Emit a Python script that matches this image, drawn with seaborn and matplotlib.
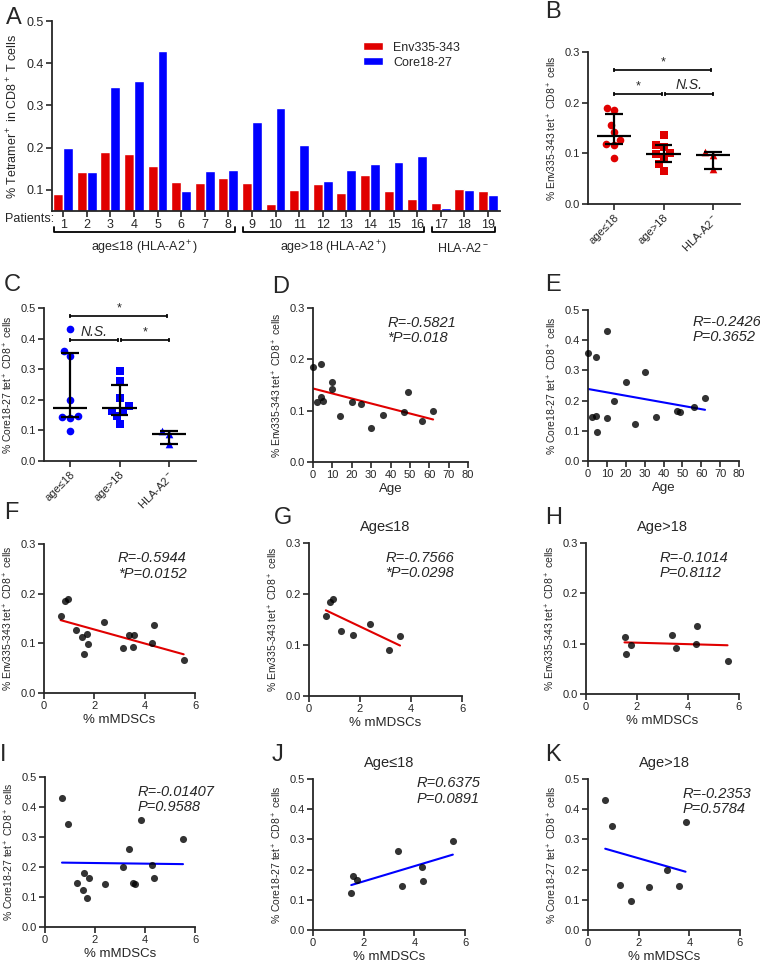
import numpy as np
import pandas as pd
import matplotlib
matplotlib.use("Agg")
import matplotlib.pyplot as plt
import matplotlib.transforms as mtransforms
import seaborn as sns

# ---- data (patients 1-16 are HLA-A2+, 17-19 are HLA-A2-) ----
patients = [str(i) for i in range(1, 20)]
env = [0.090, 0.142, 0.190, 0.185, 0.156, 0.119, 0.117, 0.127, 0.117, 0.066,
       0.100, 0.113, 0.092, 0.136, 0.098, 0.079, 0.070, 0.102, 0.097]
core = [0.200, 0.142, 0.343, 0.358, 0.430, 0.097, 0.145, 0.148, 0.261, 0.294,
        0.207, 0.122, 0.146, 0.162, 0.165, 0.180, 0.056, 0.099, 0.087]
age = [14, 10, 4, 0, 10, 5, 2, 4, 20, 30, 62, 25, 36, 49, 47, 56]
mdsc_env = [3.12, 2.39, 0.94, 0.82, 0.66, 1.71, 3.57, 1.27, 3.38, 5.55,
            4.30, 1.51, 3.53, 4.36, 1.76, 1.57]
mdsc_core = [3.13, 2.39, 0.93, 3.85, 0.68, 1.69, 3.59, 1.27, 3.37, 5.52,
             4.29, 1.51, 3.51, 4.35, 1.75, 1.57]
groups = ["age≤18", "age>18", "HLA-A2$^-$"]
group_slices = [slice(0, 8), slice(8, 16), slice(16, 19)]
bar_groups = ["age≤18 (HLA-A2$^+$)", "age>18 (HLA-A2$^+$)", "HLA-A2$^-$"]
stats = {
    "D": ("R=-0.5821", "*P=0.018"),
    "E": ("R=-0.2426", "P=0.3652"),
    "F": ("R=-0.5944", "*P=0.0152"),
    "G": ("R=-0.7566", "*P=0.0298"),
    "H": ("R=-0.1014", "P=0.8112"),
    "I": ("R=-0.01407", "P=0.9588"),
    "J": ("R=0.6375", "P=0.0891"),
    "K": ("R=-0.2353", "P=0.5784"),
}

RED = "#e00000"
BLUE = "#0000ff"

sns.set_style("ticks")
plt.rcParams["font.family"] = ["Liberation Sans", "DejaVu Sans"]
plt.rcParams["mathtext.fontset"] = "custom"
plt.rcParams["mathtext.rm"] = "Liberation Sans"
plt.rcParams["mathtext.it"] = "Liberation Sans:italic"
plt.rcParams["axes.linewidth"] = 1.3

W, H = 760, 963
fig = plt.figure(figsize=(W / 100, H / 100), dpi=100)


def px_axes(x0, y0, x1, y1):
    return fig.add_axes([x0 / W, 1 - y1 / H, (x1 - x0) / W, (y1 - y0) / H])


def style(ax, size=8):
    sns.despine(ax=ax)
    ax.tick_params(direction="out", length=4, width=1.2, labelsize=size, pad=2)


def letter(x, y, s):
    fig.text(x / W, 1 - y / H, s, fontsize=17, ha="left", va="center")


env_label = "% Env335-343 tet$^+$ CD8$^+$ cells"
core_label = "% Core18-27 tet$^+$ CD8$^+$ cells"

# ---- A: bar chart per patient ----
ax = px_axes(52, 21, 500, 211)
df_a = pd.DataFrame({
    "Patient": patients * 2,
    "value": env + core,
    "Epitope": ["Env335-343"] * 19 + ["Core18-27"] * 19,
})
sns.barplot(data=df_a, x="Patient", y="value", hue="Epitope", palette=[RED, BLUE],
            width=0.84, saturation=1, errorbar=None, ax=ax)
ax.set_ylim(0.05, 0.5)
ax.set_yticks([0.1, 0.2, 0.3, 0.4, 0.5])
ax.set_xlim(-0.47, 18.51)
ax.set_xlabel("")
ax.set_ylabel("% Tetramer$^+$ in CD8$^+$ T cells", fontsize=9)
style(ax, 9)
ax.legend(frameon=False, loc="upper left", bbox_to_anchor=(0.67, 0.95),
          fontsize=9, handlelength=1.6, handleheight=0.6, labelspacing=0.25)
fig.text(54 / W, 1 - 219 / H, "Patients:", fontsize=9, ha="right", va="center")
trans = mtransforms.blended_transform_factory(ax.transData, ax.transAxes)
for name, sl in zip(bar_groups, group_slices):
    a, b = sl.start - 0.37, sl.stop - 1 + 0.28
    ax.plot([a, a, b, b], [-0.085, -0.11, -0.11, -0.085], color="black", lw=1.3,
            transform=trans, clip_on=False)
    ax.text((a + b) / 2, -0.195, name, fontsize=9, ha="center", va="center",
            transform=trans)
letter(6, 18, "A")


# ---- B, C: group scatter with median and IQR ----
def bracket(ax, x0, x1, y, label, dy, italic=False):
    ax.plot([x0, x1], [y, y], color="black", lw=1.2, clip_on=False)
    ax.vlines([x0, x1], y - dy, y + dy, color="black", lw=1.2, clip_on=False)
    ax.text((x0 + x1) / 2, y + dy * 0.6, label, ha="center", va="bottom",
            fontsize=10 if italic else 9, style="italic" if italic else "normal")


def group_panel(ax, values, color, ylim, ylabel, labels):
    markers = ["o", "s", "^"]
    for g, sl, m in zip(groups, group_slices, markers):
        vals = values[sl]
        sns.swarmplot(x=[g] * len(vals), y=vals, order=groups, marker=m,
                      color=color, size=5.5, ax=ax, zorder=2)
        i = groups.index(g)
        q1, med, q3 = np.percentile(vals, [25, 50, 75], method="weibull")
        ax.hlines(med, i - 0.35, i + 0.35, color="black", lw=1.6, zorder=4)
        ax.vlines(i, q1, q3, color="black", lw=1.6, zorder=4)
        ax.hlines([q1, q3], i - 0.18, i + 0.18, color="black", lw=1.6, zorder=4)
    ax.set_ylim(*ylim)
    ax.set_yticks(np.arange(0, ylim[1] + 0.001, 0.1))
    ax.set_xlim(-0.53, 2.55)
    ax.set_ylabel(ylabel, fontsize=7.5)
    style(ax)
    ax.tick_params(axis="x", labelrotation=45)
    for t in ax.get_xticklabels():
        t.set_ha("right")
        t.set_rotation_mode("anchor")
    dy = 0.013 * (ylim[1] - ylim[0])
    top, low = labels
    bracket(ax, 0, 1.97, top[0], top[1], dy)
    bracket(ax, 0, 0.97, low[0], low[1], dy, italic=low[1] == "N.S.")
    bracket(ax, 1.03, 2, low[0], low[2], dy, italic=low[2] == "N.S.")


ax = px_axes(588, 52, 740, 204)
group_panel(ax, env, RED, (0, 0.3), env_label,
            [(0.265, "*"), (0.218, "*", "N.S.")])
letter(545, 12, "B")

ax = px_axes(44, 308, 196, 461)
group_panel(ax, core, BLUE, (0, 0.5), core_label,
            [(0.474, "*"), (0.396, "N.S.", "*")])
letter(4, 285, "C")


# ---- D-K: correlations ----
def corr_panel(ax, x, y, color, key, tx, ty, xmax, xstep, ymax, ylabel, xlabel,
               title=None):
    sns.regplot(x=np.array(x), y=np.array(y), ci=None, ax=ax, color="black",
                scatter_kws={"s": 26, "clip_on": False, "zorder": 3,
                             "linewidths": 0},
                line_kws={"color": color, "lw": 1.5, "zorder": 2})
    ax.set_xlim(0, xmax)
    ax.set_xticks(np.arange(0, xmax + 0.01, xstep))
    ax.set_ylim(0, ymax)
    ax.set_yticks(np.arange(0, ymax + 0.001, 0.1))
    ax.set_xlabel(xlabel, fontsize=9.5, labelpad=2)
    ax.set_ylabel(ylabel, fontsize=7.5)
    style(ax)
    r, p = stats[key]
    ax.text(tx, ty, r + "\n" + p, transform=ax.transAxes, ha="left", va="top",
            fontsize=10.5, style="italic", linespacing=1.15, clip_on=False)
    if title:
        ax.set_title(title, fontsize=10.5, pad=9)


ax = px_axes(313, 308, 468, 462)
corr_panel(ax, age, env[:16], RED, "D", 0.48, 0.95, 80, 10, 0.3, env_label, "Age")
letter(272, 287, "D")

ax = px_axes(588, 310, 739, 461)
corr_panel(ax, age, core[:16], BLUE, "E", 0.69, 0.97, 80, 10, 0.5, core_label, "Age")
letter(545, 285, "E")

ax = px_axes(44, 544, 195, 693)
corr_panel(ax, mdsc_env, env[:16], RED, "F", 0.49, 0.95, 6, 2, 0.3, env_label,
           "% mMDSCs")
letter(4, 513, "F")

ax = px_axes(309, 543, 462, 696)
corr_panel(ax, mdsc_env[:8], env[:8], RED, "G", 0.50, 0.95, 6, 2, 0.3, env_label,
           "% mMDSCs", "Age≤18")
letter(274, 518, "G")

ax = px_axes(586, 543, 739, 694)
corr_panel(ax, mdsc_env[8:16], env[8:16], RED, "H", 0.48, 0.95, 6, 2, 0.3,
           env_label, "% mMDSCs", "Age>18")
letter(545, 518, "H")

ax = px_axes(45, 777, 195, 927)
corr_panel(ax, mdsc_core, core[:16], BLUE, "I", 0.62, 0.95, 6, 2, 0.5, core_label,
           "% mMDSCs")
letter(0, 755, "I")

# titles of J and K follow the original figure
ax = px_axes(313, 779, 465, 930)
corr_panel(ax, mdsc_core[8:16], core[8:16], BLUE, "J", 0.68, 1.02, 6, 2, 0.5,
           core_label, "% mMDSCs", "Age≤18")
letter(272, 755, "J")

ax = px_axes(588, 779, 740, 930)
corr_panel(ax, mdsc_core[:8], core[:8], BLUE, "K", 0.62, 0.95, 6, 2, 0.5,
           core_label, "% mMDSCs", "Age>18")
letter(545, 755, "K")

fig.savefig("out.png", dpi=100)
